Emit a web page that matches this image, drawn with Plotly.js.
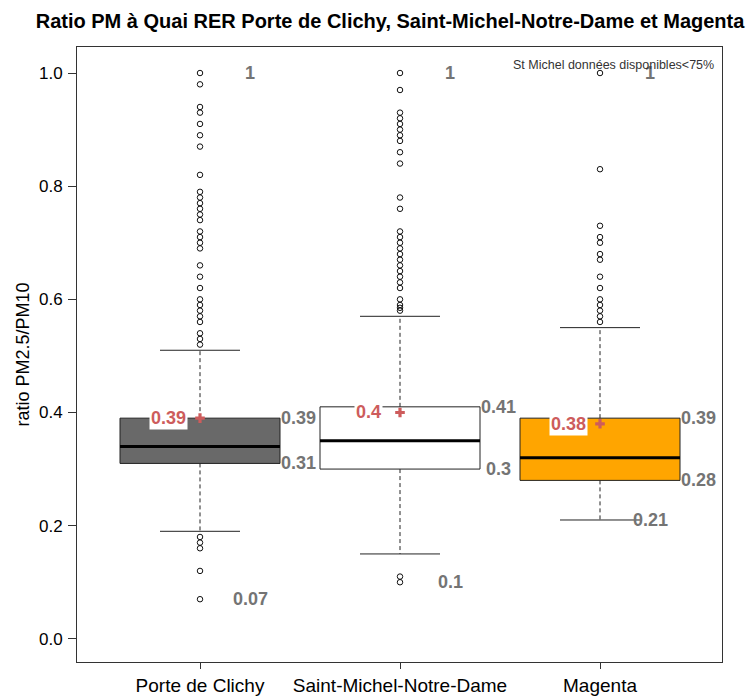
<!DOCTYPE html>
<html>
<head>
<meta charset="utf-8">
<script src="https://cdn.plot.ly/plotly-3.0.1.min.js"></script>
<style>html,body{margin:0;padding:0;background:#fff;}#chart{width:753px;height:697px;}</style>
</head>
<body>
<div id="chart"></div>
<script>
// ---- data ----
const categories = ["Porte de Clichy", "Saint-Michel-Notre-Dame", "Magenta"];
const q1Vals = [0.31, 0.30, 0.28];
const medianVals = [0.34, 0.35, 0.32];
const q3Vals = [0.39, 0.41, 0.39];
const lowerWhisker = [0.19, 0.15, 0.21];
const upperWhisker = [0.51, 0.57, 0.55];
const meanVals = [0.39, 0.40, 0.38];
const minVals = [0.07, 0.10, 0.21];
const maxVals = [1.0, 1.0, 1.0];
const outliersClichy = [1.0, 0.98, 0.94, 0.93, 0.91, 0.89, 0.87, 0.82, 0.79, 0.78, 0.77, 0.76, 0.75, 0.74, 0.72, 0.71, 0.70, 0.69, 0.66, 0.64, 0.62, 0.60, 0.59, 0.58, 0.57, 0.56, 0.54, 0.53, 0.52, 0.18, 0.17, 0.16, 0.12, 0.07];
const outliersStMichel = [1.0, 0.97, 0.93, 0.92, 0.91, 0.90, 0.89, 0.88, 0.86, 0.84, 0.78, 0.76, 0.72, 0.71, 0.70, 0.69, 0.68, 0.67, 0.66, 0.65, 0.64, 0.63, 0.62, 0.60, 0.59, 0.585, 0.58, 0.11, 0.10];
const outliersMagenta = [1.0, 0.83, 0.73, 0.71, 0.70, 0.68, 0.67, 0.64, 0.62, 0.60, 0.59, 0.58, 0.57, 0.56];
const boxColors = ["#696969", "#ffffff", "#ffa500"];
const yTickVals = [0.0, 0.2, 0.4, 0.6, 0.8, 1.0];
const yTickText = ["0.0", "0.2", "0.4", "0.6", "0.8", "1.0"];

// ---- build ----
const outliers = [outliersClichy, outliersStMichel, outliersMagenta];
const pos = categories.map((c, i) => i + 1);
const boxW = 0.8, capHalf = 0.2;
const fmt = v => String(Number(v.toFixed(2)));
const red = "#cd5c5c";
const gray = "#747474";
const traces = [];

categories.forEach((c, i) => {
  traces.push({
    type: "box", x: [pos[i]], q1: [q1Vals[i]], median: [medianVals[i]], q3: [q3Vals[i]],
    lowerfence: [q1Vals[i]], upperfence: [q3Vals[i]], width: boxW,
    fillcolor: boxColors[i], line: {color: "#222", width: 1}, boxpoints: false,
    whiskerwidth: 0, name: c, hoverinfo: "skip"
  });
});
categories.forEach((c, i) => {
  const p = pos[i];
  traces.push({type: "scatter", mode: "lines", x: [p - boxW / 2, p + boxW / 2], y: [medianVals[i], medianVals[i]],
    line: {color: "#000", width: 3}, hoverinfo: "skip"});
  traces.push({type: "scatter", mode: "lines", x: [p, p, null, p, p], y: [q3Vals[i], upperWhisker[i], null, q1Vals[i], lowerWhisker[i]],
    line: {color: "#222", width: 1, dash: "4px,3px"}, hoverinfo: "skip"});
  traces.push({type: "scatter", mode: "lines", x: [p - capHalf, p + capHalf, null, p - capHalf, p + capHalf],
    y: [upperWhisker[i], upperWhisker[i], null, lowerWhisker[i], lowerWhisker[i]],
    line: {color: "#222", width: 1}, hoverinfo: "skip"});
  traces.push({type: "scatter", mode: "markers", x: outliers[i].map(() => p), y: outliers[i],
    marker: {symbol: "circle-open", size: 5.5, color: "#111", line: {width: 1}}, hoverinfo: "skip"});
});
traces.push({type: "scatter", mode: "markers", x: pos, y: meanVals,
  marker: {symbol: "cross", size: 8, color: red, line: {width: 0}}, hoverinfo: "skip"});

const annotations = [];
const ff = "Liberation Sans, Arial, sans-serif";
const labFont = {family: ff, size: 18, color: gray, weight: "bold"};
categories.forEach((c, i) => {
  const p = pos[i];
  annotations.push({x: p + 0.49, y: q3Vals[i], xref: "x", yref: "y", text: fmt(q3Vals[i]), showarrow: false, font: labFont, xanchor: "center", yanchor: "middle"});
  annotations.push({x: p + 0.49, y: q1Vals[i], xref: "x", yref: "y", text: fmt(q1Vals[i]), showarrow: false, font: labFont, xanchor: "center", yanchor: "middle"});
  annotations.push({x: p + 0.25, y: maxVals[i], xref: "x", yref: "y", text: fmt(maxVals[i]), showarrow: false, font: labFont, xanchor: "center", yanchor: "middle"});
  annotations.push({x: p + 0.25, y: minVals[i], xref: "x", yref: "y", text: fmt(minVals[i]), showarrow: false, font: labFont, xanchor: "center", yanchor: "middle"});
  annotations.push({x: p - 0.16, y: meanVals[i], xref: "x", yref: "y", text: fmt(meanVals[i]), showarrow: false,
    font: {family: ff, size: 18, color: red, weight: "bold"},
    bgcolor: "#ffffff", borderpad: 1, xanchor: "center", yanchor: "middle"});
});
annotations.push({x: 0.99, y: 0.985, xref: "paper", yref: "paper", text: "St Michel données disponibles<75%", showarrow: false,
  font: {family: ff, size: 12.5, color: "#333"}, xanchor: "right", yanchor: "top"});

const layout = {
  width: 753, height: 697,
  margin: {l: 77, r: 31, t: 47, b: 35},
  paper_bgcolor: "#fff", plot_bgcolor: "#fff",
  showlegend: false,
  boxmode: "overlay",
  font: {family: ff, color: "#000"},
  title: {text: "Ratio PM à Quai RER Porte de Clichy, Saint-Michel-Notre-Dame et Magenta",
    font: {size: 20, weight: "bold", color: "#000"}, x: 0.518, xanchor: "center", y: 0.97, yanchor: "middle"},
  xaxis: {range: [0.385, 3.61], tickvals: pos, ticktext: categories, showgrid: false, zeroline: false,
    showline: true, mirror: true, linecolor: "#333", linewidth: 1, ticks: "outside", ticklen: 6, tickcolor: "#333",
    tickfont: {size: 19}},
  yaxis: {range: [-0.041, 1.046], tickvals: yTickVals, ticktext: yTickText, showgrid: false, zeroline: false,
    showline: true, mirror: true, linecolor: "#333", linewidth: 1, ticks: "outside", ticklen: 8, tickcolor: "#333",
    ticklabelstandoff: 2,
    tickfont: {size: 17}, title: {text: "ratio PM2.5/PM10", font: {size: 18}, standoff: 4}},
  annotations: annotations
};
Plotly.newPlot("chart", traces, layout, {displayModeBar: false, staticPlot: true});
</script>
</body>
</html>
